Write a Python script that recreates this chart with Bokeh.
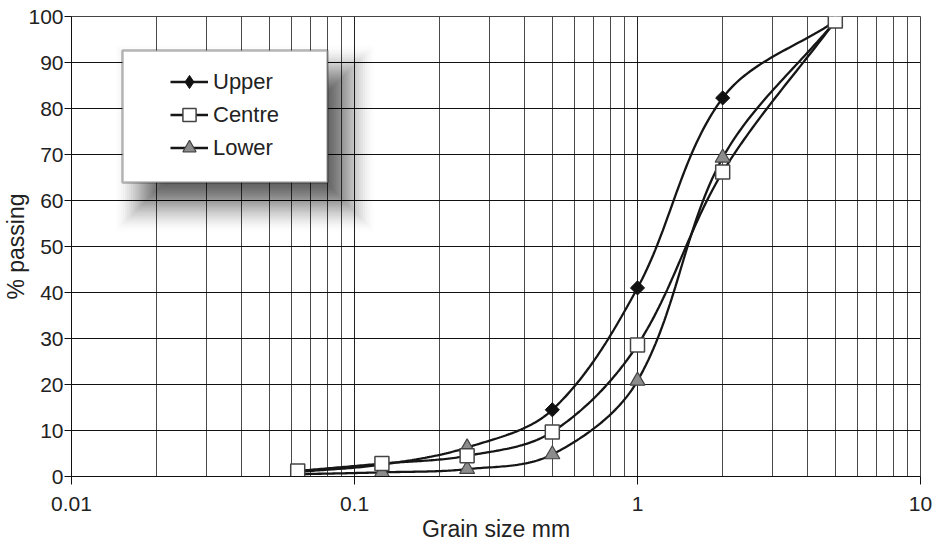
import numpy as np
from bokeh.plotting import figure
from bokeh.models import Range1d, FixedTicker, LegendItem, Legend, BoxAnnotation
from bokeh.embed import file_html
from bokeh.resources import INLINE

# ---- data ----
grain_size_mm = [0.063, 0.125, 0.25, 0.5, 1.0, 2.0, 5.0]
upper_passing = [1.0, 2.6, 6.3, 14.5, 41.0, 82.3, 99.0]
centre_passing = [1.2, 2.8, 4.5, 9.7, 28.6, 66.2, 99.0]
lower_passing = [0.5, 0.9, 1.6, 4.8, 20.8, 69.3, 99.0]
upper_markers = ["diamond", "diamond", "triangle", "diamond", "diamond", "diamond", "diamond"]
series_names = ["Upper", "Centre", "Lower"]
x_tick_values = [0.01, 0.1, 1.0, 10.0]
x_tick_labels = ["0.01", "0.1", "1", "10"]
y_tick_values = [0, 10, 20, 30, 40, 50, 60, 70, 80, 90, 100]
x_label = "Grain size mm"
y_label = "% passing"

FONT = "Liberation Sans"
TXT = "#222222"
PX_DECADE, PX_UNIT = 283.0, 4.61   # screen scale, used only to shape the smoothing


def smooth(xs, ys, n=40):
    """Smoothed line like a spreadsheet chart: Bezier segments whose handles follow
    the neighbour direction and scale with the segment length (in screen space)."""
    P = np.column_stack([np.log10(np.asarray(xs, float)) * PX_DECADE,
                         np.asarray(ys, float) * PX_UNIT])
    m = len(P)
    tang = []
    for i in range(m):
        d = P[min(i + 1, m - 1)] - P[max(i - 1, 0)]
        tang.append(d / np.hypot(*d))
    out = []
    for i in range(m - 1):
        p1, p2 = P[i], P[i + 1]
        L = np.hypot(*(p2 - p1)) / 3.0
        c1 = p1 + tang[i] * L
        c2 = p2 - tang[i + 1] * L
        t = np.linspace(0, 1, n, endpoint=(i == m - 2))[:, None]
        out.append((1 - t) ** 3 * p1 + 3 * (1 - t) ** 2 * t * c1 + 3 * (1 - t) * t ** 2 * c2 + t ** 3 * p2)
    pts = np.vstack(out)
    return 10 ** (pts[:, 0] / PX_DECADE), pts[:, 1] / PX_UNIT


p = figure(width=935, height=544, x_axis_type="log",
           x_range=Range1d(0.01, 10), y_range=Range1d(0, 100),
           output_backend="svg", toolbar_location=None,
           min_border_left=71, min_border_right=15, min_border_top=16, min_border_bottom=67)
p.background_fill_color = "white"
p.border_fill_color = "white"
p.outline_line_color = "#444444"

minor = [m * 10.0 ** k for k in (-2, -1, 0) for m in range(2, 10)]
xt = FixedTicker(ticks=x_tick_values, minor_ticks=minor)
p.xaxis.ticker = xt
p.xgrid.ticker = xt
p.xaxis.major_label_overrides = {v: l for v, l in zip(x_tick_values, x_tick_labels)}
yt = FixedTicker(ticks=y_tick_values)
p.yaxis.ticker = yt
p.ygrid.ticker = yt

for ax in (p.xaxis[0], p.yaxis[0]):
    ax.axis_line_color = "#111111"
    ax.major_tick_line_color = "#111111"
    ax.major_tick_in = 0
    ax.minor_tick_in = 0
    ax.minor_tick_out = 0
    ax.major_label_text_font = FONT
    ax.major_label_text_font_size = "21px"
    ax.major_label_text_color = TXT
    ax.axis_label_text_font = FONT
    ax.axis_label_text_font_size = "23px"
    ax.axis_label_text_font_style = "normal"
    ax.axis_label_text_color = TXT

p.xaxis.major_tick_out = 8
p.xaxis.major_label_standoff = 12
p.xaxis.axis_label = x_label
p.xaxis.axis_label_standoff = 2
p.yaxis.major_tick_out = 7
p.yaxis.major_label_standoff = 1
p.yaxis.axis_label = y_label
p.yaxis.axis_label_standoff = -4

p.xgrid.grid_line_color = "#222222"
p.xgrid.minor_grid_line_color = "#4a4a4a"
p.ygrid.grid_line_color = "#111111"

# ---- curves ----
lines = {}
for name, ys in zip(series_names, [upper_passing, centre_passing, lower_passing]):
    sx, sy = smooth(grain_size_mm, ys)
    lines[name] = p.line(sx, sy, line_color="#161616", line_width=2.3)

# ---- markers ----
ud_x = [x for x, m in zip(grain_size_mm, upper_markers) if m == "diamond"]
ud_y = [y for y, m in zip(upper_passing, upper_markers) if m == "diamond"]
ut_x = [x for x, m in zip(grain_size_mm, upper_markers) if m == "triangle"]
ut_y = [y for y, m in zip(upper_passing, upper_markers) if m == "triangle"]

p.scatter(ud_x, ud_y, marker="square", angle=np.pi / 4, size=10,
          fill_color="#111111", line_color="#111111")
p.scatter(ut_x, ut_y, marker="triangle", size=15,
          fill_color="#8c8c8c", line_color="#444444", line_width=1.2)
lower_r = p.scatter(grain_size_mm, lower_passing, marker="triangle", size=15,
                    fill_color="#8c8c8c", line_color="#444444", line_width=1.2)
centre_r = p.scatter(grain_size_mm, centre_passing, marker="square", size=14,
                     fill_color="white", line_color="#444444", line_width=1.5)
# diamond glyph used only for the legend entry
upper_leg = p.scatter(ud_x, ud_y, marker="diamond", size=14,
                      fill_color="#111111", line_color="#111111", visible=False)

# ---- legend box with soft shadow (canvas pixels) ----
bl, bt, br, bb = 122, 50, 327, 182
dx, dy, R, N, AMAX = 20, 22, 28, 28, 0.62
prev = 0.0
for k in range(N):
    e = R - 2.0 * R * k / (N - 1)
    s = (k + 1) / N
    target = AMAX * (3 * s * s - 2 * s * s * s)
    a = 1 - (1 - target) / (1 - prev)
    prev = target
    p.add_layout(BoxAnnotation(left=bl + dx - e, right=br + dx + e, top=bt + dy - e, bottom=bb + dy + e,
                               left_units="canvas", right_units="canvas",
                               top_units="canvas", bottom_units="canvas",
                               fill_color="black", fill_alpha=a, line_alpha=0))
p.add_layout(BoxAnnotation(left=bl, right=br, top=bt, bottom=bb,
                           left_units="canvas", right_units="canvas",
                           top_units="canvas", bottom_units="canvas",
                           fill_color="white", fill_alpha=1.0,
                           line_color="#111111", line_width=2.5))

legend = Legend(items=[
    LegendItem(label=series_names[0], renderers=[lines["Upper"], upper_leg]),
    LegendItem(label=series_names[1], renderers=[lines["Centre"], centre_r]),
    LegendItem(label=series_names[2], renderers=[lines["Lower"], lower_r]),
], location=(99, 312), orientation="vertical", click_policy="none",
    border_line_alpha=0, background_fill_alpha=0, padding=0, spacing=0, margin=0,
    glyph_width=38, glyph_height=33, label_height=33, label_standoff=5,
    label_text_font=FONT, label_text_font_size="22px", label_text_color=TXT)
p.add_layout(legend)

open("out.html", "w").write(file_html(p, INLINE))
